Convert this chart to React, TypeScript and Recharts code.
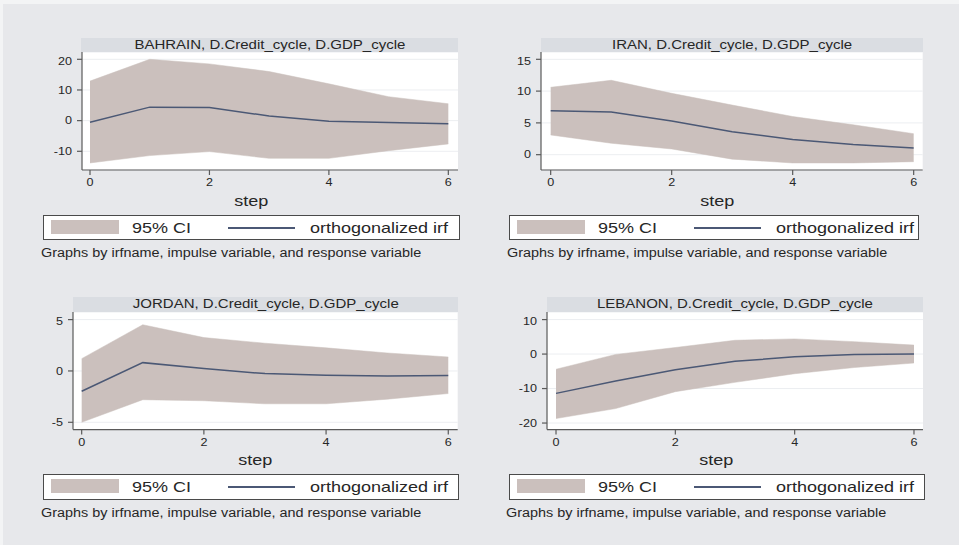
import React from 'react';
import { ComposedChart, Area, Line, XAxis, YAxis, CartesianGrid } from 'recharts';

// impulse-response values (steps 0..6)
const steps = [0, 1, 2, 3, 4, 5, 6];
const xTicks = [0, 2, 4, 6];

const bahrainIrf = [-0.5, 4.4, 4.3, 1.5, -0.2, -0.65, -1.0];
const bahrainLow = [-13.8, -11.4, -10.1, -12.3, -12.3, -9.8, -7.6];
const bahrainHigh = [12.9, 20.0, 18.5, 16.0, 12.0, 7.8, 5.5];
const bahrainTicks = [-10, 0, 10, 20];

const iranIrf = [6.9, 6.7, 5.3, 3.6, 2.4, 1.6, 1.05];
const iranLow = [3.1, 1.8, 0.9, -0.7, -1.3, -1.3, -1.1];
const iranHigh = [10.6, 11.7, 9.65, 7.8, 6.0, 4.7, 3.3];
const iranTicks = [0, 5, 10, 15];

const jordanIrf = [-1.98, 0.81, 0.23, -0.26, -0.42, -0.5, -0.45];
const jordanLow = [-5.0, -2.8, -2.9, -3.2, -3.2, -2.75, -2.2];
const jordanHigh = [1.2, 4.5, 3.25, 2.7, 2.25, 1.75, 1.36];
const jordanTicks = [-5, 0, 5];

const lebanonIrf = [-11.4, -7.8, -4.55, -2.1, -0.8, -0.1, 0.05];
const lebanonLow = [-18.7, -15.8, -10.9, -8.2, -5.7, -3.9, -2.6];
const lebanonHigh = [-4.4, -0.1, 1.9, 4.0, 4.4, 3.6, 2.6];
const lebanonTicks = [-20, -10, 0, 10];

const titles = [
  'BAHRAIN, D.Credit_cycle, D.GDP_cycle',
  'IRAN, D.Credit_cycle, D.GDP_cycle',
  'JORDAN, D.Credit_cycle, D.GDP_cycle',
  'LEBANON, D.Credit_cycle, D.GDP_cycle',
];

const FONT = '"Liberation Sans", Arial, Helvetica, sans-serif';
const CI_COLOR = '#cbc0bd';
const LINE_COLOR = '#4b5875';
const AXIS_COLOR = '#5a5a5a';
const TEXT_COLOR = '#262626';
const STRETCH = 1.2;

const buildRows = (irf: number[], low: number[], high: number[]) =>
  steps.map((s, i) => ({ step: s, ci: [low[i], high[i]], irf: irf[i] }));

// layout of each panel (page pixels)
const panels = [
  {
    title: titles[0], rows: buildRows(bahrainIrf, bahrainLow, bahrainHigh), yTicks: bahrainTicks,
    plot: { l: 82, t: 52, r: 458, b: 170 }, xDomain: [-0.134, 6.162], yDomain: [-16.1, 22.38],
    strip: { l: 81, r: 458 }, stepX: 250.7, legend: { l: 43, r: 460, t: 215, h: 25 }, noteX: 41,
  },
  {
    title: titles[1], rows: buildRows(iranIrf, iranLow, iranHigh), yTicks: iranTicks,
    plot: { l: 541, t: 52, r: 922.7, b: 170 }, xDomain: [-0.16, 6.149], yDomain: [-2.41, 16.15],
    strip: { l: 541, r: 923 }, stepX: 716.7, legend: { l: 509, r: 919, t: 215, h: 25 }, noteX: 507,
  },
  {
    title: titles[2], rows: buildRows(jordanIrf, jordanLow, jordanHigh), yTicks: jordanTicks,
    plot: { l: 73, t: 311.7, r: 457.7, b: 429.3 }, xDomain: [-0.142, 6.154], yDomain: [-5.71, 5.74],
    strip: { l: 73, r: 458 }, stepX: 255, legend: { l: 43, r: 459, t: 474, h: 26 }, noteX: 41,
  },
  {
    title: titles[3], rows: buildRows(lebanonIrf, lebanonLow, lebanonHigh), yTicks: lebanonTicks,
    plot: { l: 546.7, t: 311.7, r: 922.7, b: 429.3 }, xDomain: [-0.151, 6.151], yDomain: [-21.9, 12.2],
    strip: { l: 547, r: 923 }, stepX: 716, legend: { l: 509, r: 925, t: 474, h: 26 }, noteX: 506,
  },
];

const YTick = (props: any) => {
  const { x, y, payload } = props;
  return (
    <text transform={`translate(${x},${y}) scale(${STRETCH},1)`} textAnchor="end" dy="0.36em"
      fontSize={10.5} fill={TEXT_COLOR} fontFamily={FONT}>
      {payload.value}
    </text>
  );
};

const XTick = (props: any) => {
  const { x, y, payload } = props;
  return (
    <text transform={`translate(${x},${y}) scale(${STRETCH},1)`} textAnchor="middle" dy="0.71em"
      fontSize={10.5} fill={TEXT_COLOR} fontFamily={FONT}>
      {payload.value}
    </text>
  );
};

const Stretch: React.FC<{ origin?: string; children: React.ReactNode }> = ({ origin = 'center', children }) => (
  <span style={{ display: 'inline-block', transform: `scaleX(${STRETCH})`, transformOrigin: origin, whiteSpace: 'nowrap' }}>
    {children}
  </span>
);

const Panel: React.FC<{ p: typeof panels[number] }> = ({ p }) => {
  const yAxisW = 45;
  const xAxisH = 30;
  const plotW = p.plot.r - p.plot.l;
  const plotH = p.plot.b - p.plot.t;
  const bw = 1.5;
  const lg = p.legend;
  return (
    <>
      {/* title strip */}
      <div style={{
        position: 'absolute', left: p.strip.l, top: p.plot.t - 14.5, width: p.strip.r - p.strip.l, height: 14.5,
        background: '#dadde2', textAlign: 'center', fontSize: 12.5, lineHeight: '14.5px', color: TEXT_COLOR,
      }}>
        <Stretch>{p.title}</Stretch>
      </div>

      <div style={{ position: 'absolute', left: p.plot.l - yAxisW, top: p.plot.t }}>
        <ComposedChart width={plotW + yAxisW + 2} height={plotH + xAxisH} data={p.rows}
          margin={{ top: 0, right: 2, bottom: 0, left: 0 }}>
          <CartesianGrid vertical={false} stroke="#eceef1" fill="#ffffff" />
          <XAxis dataKey="step" type="number" domain={p.xDomain} ticks={xTicks} height={xAxisH}
            tick={<XTick />} tickSize={5} tickMargin={4} stroke={AXIS_COLOR} strokeWidth={1.2}
            allowDataOverflow />
          <YAxis type="number" domain={p.yDomain} ticks={p.yTicks} width={yAxisW}
            tick={<YTick />} tickSize={5} tickMargin={5} stroke={AXIS_COLOR} strokeWidth={1.2}
            allowDataOverflow />
          <Area dataKey="ci" type="linear" fill={CI_COLOR} fillOpacity={1} stroke={CI_COLOR} strokeWidth={0.5}
            isAnimationActive={false} dot={false} activeDot={false} />
          <Line dataKey="irf" type="linear" stroke={LINE_COLOR} strokeWidth={1.5} dot={false}
            activeDot={false} isAnimationActive={false} />
        </ComposedChart>
      </div>

      {/* x axis title */}
      <div style={{
        position: 'absolute', left: p.stepX - 50, width: 100, top: p.plot.b + 21.5, textAlign: 'center',
        fontSize: 15, lineHeight: '18px', color: TEXT_COLOR,
      }}>
        <Stretch>step</Stretch>
      </div>

      {/* legend */}
      <div style={{
        position: 'absolute', left: lg.l, top: lg.t, width: lg.r - lg.l, height: lg.h, boxSizing: 'border-box',
        border: `${bw}px solid #4a4a4a`, background: '#ffffff', fontSize: 15, lineHeight: '18px', color: TEXT_COLOR,
      }}>
        <div style={{ position: 'absolute', left: 8 - bw, top: 5.7 - bw, width: 68, height: 14.3, background: CI_COLOR }} />
        <div style={{ position: 'absolute', left: 89.7 - bw, top: 18.3 - 14.2 - bw }}>
          <Stretch origin="left">95% CI</Stretch>
        </div>
        <div style={{ position: 'absolute', left: 185 - bw, top: 13.3 - bw - 0.75, width: 67, height: 1.5, background: LINE_COLOR }} />
        <div style={{ position: 'absolute', left: 267 - bw, top: 18.3 - 14.2 - bw }}>
          <Stretch origin="left">orthogonalized irf</Stretch>
        </div>
      </div>

      {/* note */}
      <div style={{
        position: 'absolute', left: p.noteX, top: lg.t + lg.h + 6, fontSize: 12, lineHeight: '14px',
        color: TEXT_COLOR,
      }}>
        <Stretch origin="left">Graphs by irfname, impulse variable, and response variable</Stretch>
      </div>
    </>
  );
};

export default function App() {
  return (
    <div style={{ position: 'absolute', left: 0, top: 0, width: 959, height: 545, background: '#f3f4f5', overflow: 'hidden', fontFamily: FONT }}>
      <div style={{ position: 'absolute', left: 3, top: 4, right: 0, bottom: 0, background: '#e7e8eb' }} />
      {panels.map((p, i) => <Panel key={i} p={p} />)}
    </div>
  );
}
